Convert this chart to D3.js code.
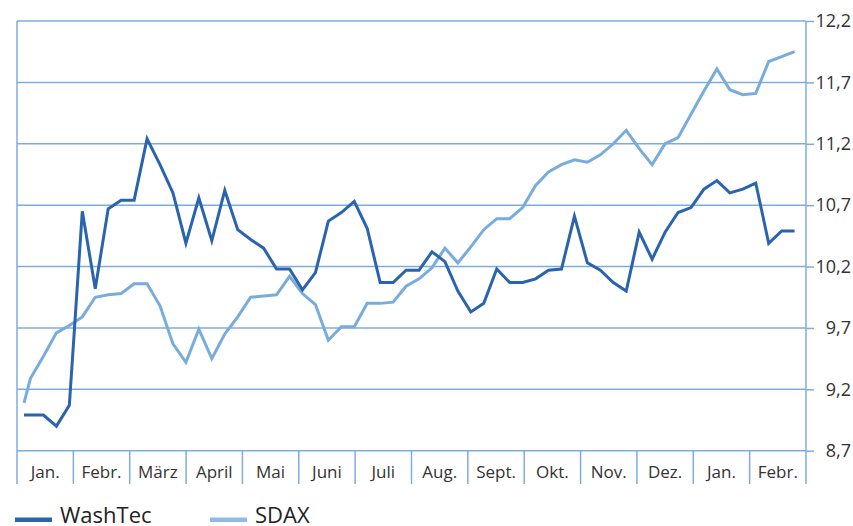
<!DOCTYPE html>
<html>
<head>
<meta charset="utf-8">
<script src="https://cdn.jsdelivr.net/npm/d3@7"></script>
<style>
  body { margin: 0; background: #fff; }
  text { font-family: "Open Sans", sans-serif; fill: #333; }
</style>
</head>
<body>
<div id="chart"></div>
<script>
var months = ["Jan.", "Febr.", "März", "April", "Mai", "Juni", "Juli", "Aug.",
  "Sept.", "Okt.", "Nov.", "Dez.", "Jan.", "Febr."]

var yTicks = [8.7, 9.2, 9.7, 10.2, 10.7, 11.2, 11.7, 12.2]

// weekly closes, first value is the start of the year
var washtec = [8.99, 8.99, 8.99, 8.90, 9.07, 10.65, 10.02, 10.67, 10.74, 10.74,
  11.24, 11.03, 10.80, 10.39, 10.76, 10.41, 10.82, 10.50, 10.42, 10.35,
  10.18, 10.18, 10.01, 10.15, 10.57, 10.64, 10.73, 10.51, 10.07, 10.07,
  10.17, 10.17, 10.32, 10.24, 10.00, 9.83, 9.90, 10.18, 10.07, 10.07,
  10.10, 10.17, 10.18, 10.61, 10.23, 10.17, 10.07, 10.00, 10.48, 10.26,
  10.48, 10.64, 10.68, 10.83, 10.90, 10.80, 10.83, 10.88, 10.39, 10.49, 10.49]

var sdax = [9.09, 9.29, 9.47, 9.66, 9.72, 9.79, 9.95, 9.97, 9.98, 10.06,
  10.06, 9.88, 9.57, 9.42, 9.69, 9.45, 9.65, 9.79, 9.95, 9.96,
  9.97, 10.12, 9.98, 9.89, 9.60, 9.71, 9.71, 9.90, 9.90, 9.91,
  10.04, 10.10, 10.19, 10.35, 10.23, 10.36, 10.50, 10.59, 10.59, 10.68,
  10.86, 10.97, 11.03, 11.07, 11.05, 11.11, 11.20, 11.31, 11.16, 11.03,
  11.20, 11.25, 11.44, 11.63, 11.81, 11.64, 11.60, 11.61, 11.87, 11.91, 11.95]

var weeks = [-0.5].concat(d3.range(washtec.length - 1))

var width = 853, height = 526
var plotLeft = 17, plotRight = 806, plotTop = 21, plotBottom = 450.7, axisEnd = 484

var gridColor = "#7eaddc"

var svg = d3.select("#chart").append("svg")
  .attr("width", width)
  .attr("height", height)

var xBand = d3.scaleBand().domain(d3.range(months.length)).range([plotLeft, plotRight]).padding(0)
var x = d3.scaleLinear().domain([-1.042, 59.88]).range([plotLeft, plotRight])
var y = d3.scaleLinear().domain([8.7, 12.2]).range([plotBottom, plotTop])

// horizontal grid
svg.append("g").selectAll("line").data(yTicks).enter().append("line")
  .attr("x1", plotLeft).attr("x2", plotRight)
  .attr("y1", function (d) { return y(d) }).attr("y2", function (d) { return y(d) })
  .style("stroke", gridColor).style("stroke-width", 1.5)

// right axis
var yAxis = d3.axisRight(y).tickValues(yTicks).tickSize(8).tickSizeOuter(0)
  .tickFormat(function (d) { return d.toFixed(1).replace(".", ",") })

var gy = svg.append("g")
  .attr("transform", "translate(" + plotRight + ",0)")
  .call(yAxis)
gy.select(".domain").remove()
gy.selectAll(".tick line").style("stroke", gridColor).style("stroke-width", 1.5)
gy.selectAll(".tick text")
  .attr("x", 45)
  .style("text-anchor", "end")
  .style("font-family", "Open Sans, sans-serif")
  .style("font-size", "18px")
  .style("fill", "#333")

// vertical frame lines
svg.append("line").attr("x1", plotLeft).attr("x2", plotLeft).attr("y1", plotTop).attr("y2", axisEnd)
  .style("stroke", gridColor).style("stroke-width", 1.5)
svg.append("line").attr("x1", plotRight).attr("x2", plotRight).attr("y1", plotTop).attr("y2", axisEnd)
  .style("stroke", gridColor).style("stroke-width", 1.5)

// month dividers and labels
svg.append("g").selectAll("line").data(d3.range(1, months.length)).enter().append("line")
  .attr("x1", function (d) { return xBand(d) }).attr("x2", function (d) { return xBand(d) })
  .attr("y1", plotBottom).attr("y2", axisEnd)
  .style("stroke", gridColor).style("stroke-width", 1.5)

svg.append("g").selectAll("text").data(months).enter().append("text")
  .attr("x", function (d, i) { return xBand(i) + xBand.bandwidth() / 2 })
  .attr("y", 478)
  .style("text-anchor", "middle")
  .style("font-size", "17px")
  .text(function (d) { return d })

// lines
var line = d3.line()
  .x(function (d, i) { return x(weeks[i]) })
  .y(function (d) { return y(d) })

svg.append("path").datum(sdax)
  .attr("d", line)
  .style("fill", "none").style("stroke", "#78acdc").style("stroke-width", 3)

svg.append("path").datum(washtec)
  .attr("d", line)
  .style("fill", "none").style("stroke", "#2a63ae").style("stroke-width", 3)

// legend
var legend = [{ name: "WashTec", color: "#2a63ae", x: 15 }, { name: "SDAX", color: "#8fbbe3", x: 210 }]
var lg = svg.append("g").selectAll("g").data(legend).enter().append("g")
  .attr("transform", function (d) { return "translate(" + d.x + ",0)" })
lg.append("rect")
  .attr("x", 0).attr("y", 517.5).attr("width", 37).attr("height", 4.5)
  .style("fill", function (d) { return d.color })
lg.append("text")
  .attr("x", 45).attr("y", 523)
  .style("font-size", "22px")
  .style("fill", "#222")
  .text(function (d) { return d.name })
</script>
</body>
</html>
